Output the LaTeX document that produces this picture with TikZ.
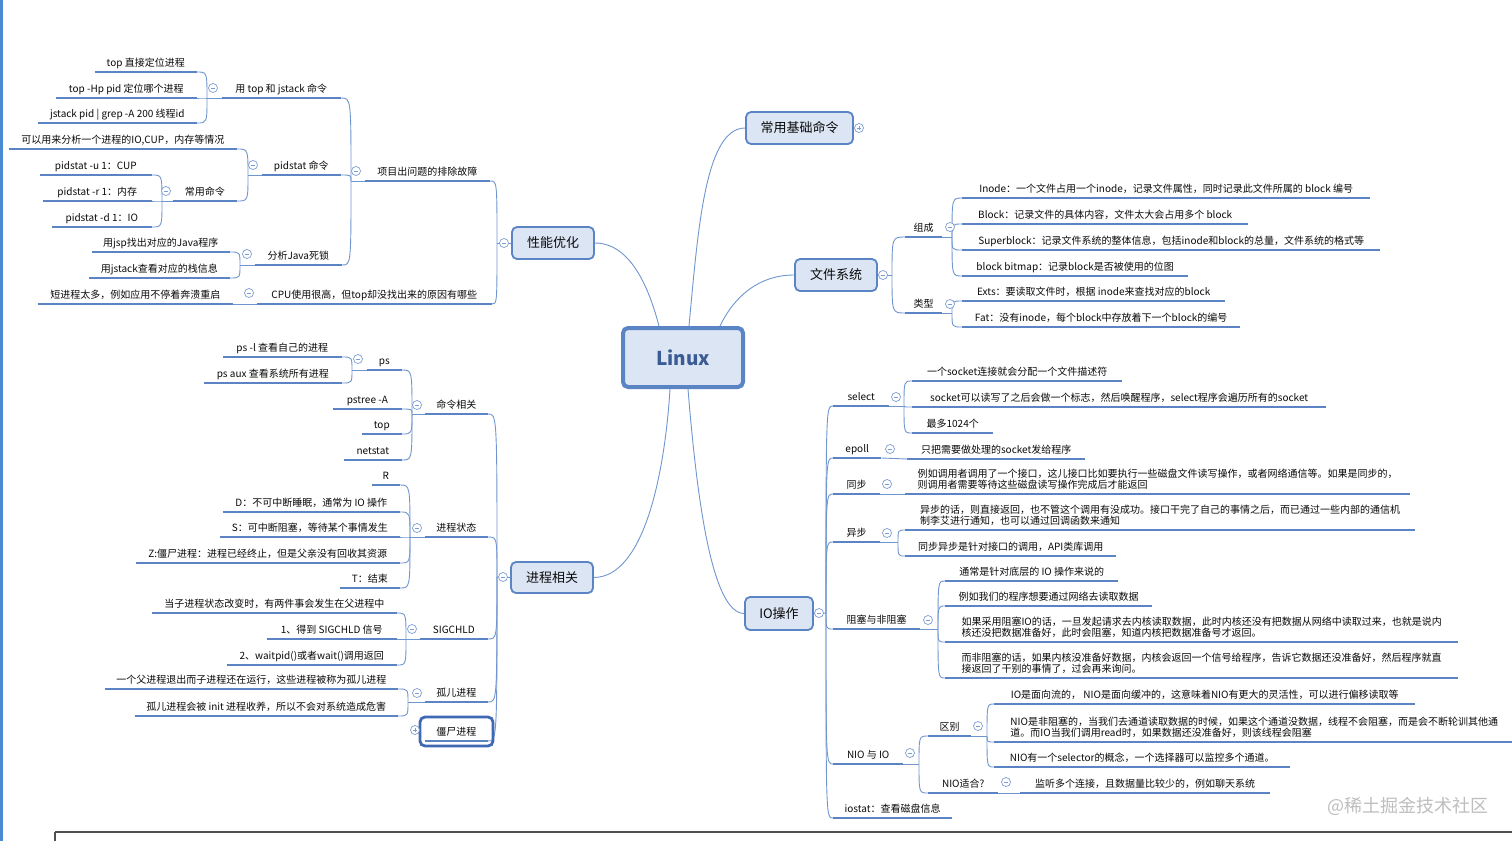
\documentclass[tikz,border=0pt]{standalone}
\usepackage{fontspec}
\setmainfont{Noto Sans CJK SC}
\usetikzlibrary{calc}
\definecolor{lb}{HTML}{5A84C4}
\definecolor{cl}{HTML}{7096CF}
\definecolor{bf}{HTML}{DCE5F3}
\definecolor{tx}{HTML}{0A0A0A}
\definecolor{lt}{HTML}{3B5B95}
\definecolor{ci}{HTML}{7C9DD3}
\definecolor{sel}{HTML}{3F68B5}
\newcommand\mmlink[2]{\draw[conn] (#1) .. controls (#1 |- #2) .. (#2);}
\tikzset{
 leaf/.style={inner xsep=4pt, inner ysep=3.7pt, text height=8pt, text depth=2pt, font=\fontsize{10}{11}\selectfont, text=tx},
 leaftwo/.style={inner xsep=4pt, inner ysep=4pt, font=\fontsize{10}{11}\selectfont, text=tx, align=left},
 lf/.style={leaf, anchor=south east, minimum width=#1},
 rt/.style={leaf, anchor=south west, minimum width=#1},
 rttwo/.style={leaftwo, anchor=south west, minimum width=#1},
 ul/.style={draw=lb, line width=2.8pt},
 conn/.style={draw=cl, line width=0.9pt},
 topic/.style={draw=lb, line width=1.8pt, fill=bf, rounded corners=5pt, font=\fontsize{13}{15}\selectfont, text=tx, inner sep=0pt},
 mn/.style={circle, draw=ci, line width=0.7pt, fill=white, minimum size=9pt, inner sep=0pt,
   path picture={\draw[ci,line width=0.8pt] ([xshift=-2.3pt]path picture bounding box.center) -- ([xshift=2.3pt]path picture bounding box.center);}},
 pl/.style={circle, draw=ci, line width=0.7pt, fill=white, minimum size=9pt, inner sep=0pt,
   path picture={\draw[ci,line width=0.8pt] ([xshift=-2.3pt]path picture bounding box.center) -- ([xshift=2.3pt]path picture bounding box.center);
   \draw[ci,line width=0.8pt] ([yshift=-2.3pt]path picture bounding box.center) -- ([yshift=2.3pt]path picture bounding box.center);}},
}
\begin{document}
\begin{tikzpicture}[x=1pt,y=-1pt]
\fill[white] (0,0) rectangle (1512,841);
\useasboundingbox (0,0) rectangle (1512,841);
\draw[color={rgb,255:red,74;green,138;blue,212}, line width=3pt] (1.5,0) -- (1.5,841);
\draw[color={rgb,255:red,80;green,80;blue,80}, line width=1.2pt] (55,832) -- (1512,832);
\draw[color={rgb,255:red,80;green,80;blue,80}, line width=1.2pt] (55,832) -- (55,841);

% ===== topics =====
\node[topic, minimum width=120pt, minimum height=59pt, line width=4pt, font=\fontsize{19}{21}\selectfont\bfseries, text=lt] (linux) at (683,357.5) {Linux};
\node[topic, minimum width=82pt, minimum height=32pt] (perf) at (553,243) {性能优化};
\node[topic, minimum width=82pt, minimum height=31pt] (proc) at (552,577.5) {进程相关};
\node[topic, minimum width=107pt, minimum height=32pt] (cmd) at (799.5,128) {常用基础命令};
\node[topic, minimum width=82pt, minimum height=32pt] (fs) at (836,275) {文件系统};
\node[topic, minimum width=68pt, minimum height=33pt] (io) at (779,613.5) {IO操作};

\coordinate (lt1) at ($(linux.north west)+(38,0)$);
\coordinate (lt2) at ($(linux.north west)+(68,0)$);
\coordinate (lt3) at ($(linux.north west)+(99,0)$);
\coordinate (lb1) at ($(linux.south west)+(49,0)$);
\coordinate (lb2) at ($(linux.south west)+(67,0)$);
\draw[conn] (perf.east) .. controls (635,243) and (652,300) .. (lt1);
\draw[conn] (lt2) .. controls (698,230) and (705,128) .. (cmd.west);
\draw[conn] (lt3) .. controls (735,295) and (760,275) .. (fs.west);
\draw[conn] (lb1) .. controls (665,470) and (645,577) .. (proc.east);
\draw[conn] (lb2) .. controls (697,500) and (712,613) .. (io.west);

% ===== 性能优化 =====
\node[lf=125pt] (p1) at (490,181) {项目出问题的排除故障};
\node[lf=235pt] (p2) at (492,304) {CPU使用很高，但top却没找出来的原因有哪些};
\node[lf=119pt] (a1) at (341,98) {用 top 和 jstack 命令};
\node[lf=79pt] (a2) at (341,175) {pidstat 命令};
\node[lf=87pt] (a3) at (342,265) {分析Java死锁};
\node[lf=102pt] (a11) at (197,72) {top 直接定位进程};
\node[lf=141pt] (a12) at (197,98) {top -Hp pid 定位哪个进程};
\node[lf=159pt] (a13) at (197,123) {jstack pid | grep -A 200 线程id};
\node[lf=228pt] (a21) at (237,149) {可以用来分析一个进程的IO,CUP，内存等情况};
\node[lf=64pt] (a22) at (237,201) {常用命令};
\node[lf=112pt] (a221) at (152,175) {pidstat -u 1：CUP};
\node[lf=109pt] (a222) at (152,201) {pidstat -r 1：内存};
\node[lf=100pt] (a223) at (152,227) {pidstat -d 1：IO};
\node[lf=138pt] (a31) at (230,252) {用jsp找出对应的Java程序};
\node[lf=141pt] (a32) at (230,278) {用jstack查看对应的栈信息};
\node[lf=195pt] (p21) at (233,304) {短进程太多，例如应用不停着奔溃重启};

% ===== 进程相关 =====
\node[lf=63pt] (q1) at (488,414) {命令相关};
\node[lf=63pt] (q2) at (488,537) {进程状态};
\node[lf=68pt] (q3) at (488,639) {SIGCHLD};
\node[lf=63pt] (q4) at (488,702) {孤儿进程};
\node[lf=63pt] (q5) at (488,741) {僵尸进程};
\node[lf=35pt] (q11) at (402,370) {ps};
\node[lf=69pt] (q12) at (402,409) {pstree -A};
\node[lf=40pt] (q13) at (402,434) {top};
\node[lf=58pt] (q14) at (402,460) {netstat};
\node[lf=119pt] (q111) at (342,357) {ps -l 查看自己的进程};
\node[lf=138pt] (q112) at (342,383) {ps aux 查看系统所有进程};
\node[lf=28pt] (q21) at (400,485) {R};
\node[lf=177pt] (q22) at (400,512) {D：不可中断睡眠，通常为 IO 操作};
\node[lf=180pt] (q23) at (400,537) {S：可中断阻塞，等待某个事情发生};
\node[lf=264pt] (q24) at (400,563) {Z:僵尸进程：进程已经终止，但是父亲没有回收其资源};
\node[lf=60pt] (q25) at (400,588) {T：结束};
\node[lf=245pt] (q31) at (397,613) {当子进程状态改变时，有两件事会发生在父进程中};
\node[lf=130pt] (q32) at (397,639) {1、得到 SIGCHLD 信号};
\node[lf=170pt] (q33) at (397,665) {2、waitpid()或者wait()调用返回};
\node[lf=293pt] (q41) at (398,689) {一个父进程退出而子进程还在运行，这些进程被称为孤儿进程};
\node[lf=263pt] (q42) at (398,716) {孤儿进程会被 init 进程收养，所以不会对系统造成危害};

% ===== 文件系统 =====
\node[rt=37pt] (f1) at (905,237) {组成};
\node[rt=37pt] (f2) at (905,313) {类型};
\node[rt=408pt] (f11) at (962,198) {Inode：一个文件占用一个inode，记录文件属性，同时记录此文件所属的 block 编号};
\node[rt=286pt] (f12) at (962,224) {Block：记录文件的具体内容，文件太大会占用多个 block};
\node[rt=418pt] (f13) at (962,250) {Superblock：记录文件系统的整体信息，包括inode和block的总量，文件系统的格式等};
\node[rt=226pt] (f14) at (962,276) {block bitmap：记录block是否被使用的位图};
\node[rt=263pt] (f21) at (962,301) {Exts：要读取文件时，根据 inode来查找对应的block};
\node[rt=278pt] (f22) at (962,327) {Fat：没有inode，每个block中存放着下一个block的编号};

% ===== IO操作 =====
\node[rt=56pt] (i1) at (833,406) {select};
\node[rt=48pt] (i2) at (833,458) {epoll};
\node[rt=47pt] (i3) at (833,494) {同步};
\node[rt=47pt] (i4) at (833,542) {异步};
\node[rt=87pt] (i5) at (833,629) {阻塞与非阻塞};
\node[rt=70pt] (i6) at (833,764) {NIO 与 IO};
\node[rt=119pt] (i7) at (833,818) {iostat：查看磁盘信息};
\node[rt=210pt] (i11) at (912,381) {一个socket连接就会分配一个文件描述符};
\node[rt=414pt] (i12) at (912,407) {socket可以读写了之后会做一个标志，然后唤醒程序，select程序会遍历所有的socket};
\node[rt=81pt] (i13) at (912,433) {最多1024个};
\node[rt=178pt] (i21) at (907,459) {只把需要做处理的socket发给程序};
\node[rttwo=505pt] (i31) at (905,494) {例如调用者调用了一个接口，这儿接口比如要执行一些磁盘文件读写操作，或者网络通信等。如果是同步的，\\则调用者需要等待这些磁盘读写操作完成后才能返回};
\node[rttwo=510pt] (i41) at (905,530) {异步的话，则直接返回，也不管这个调用有没成功。接口干完了自己的事情之后，而已通过一些内部的通信机\\制李艾进行通知，也可以通过回调函数来通知};
\node[rt=211pt] (i42) at (905,556) {同步异步是针对接口的调用，API类库调用};
\node[rt=173pt] (i51) at (945,581) {通常是针对底层的 IO 操作来说的};
\node[rt=207pt] (i52) at (945,606) {例如我们的程序想要通过网络去读取数据};
\node[rttwo=513pt] (i53) at (945,642) {如果采用阻塞IO的话，一旦发起请求去内核读取数据，此时内核还没有把数据从网络中读取过来，也就是说内\\核还没把数据准备好，此时会阻塞，知道内核把数据准备号才返回。};
\node[rttwo=513pt] (i54) at (945,678) {而非阻塞的话，如果内核没准备好数据，内核会返回一个信号给程序，告诉它数据还没准备好，然后程序就直\\接返回了干别的事情了，过会再来询问。};
\node[rt=43pt] (i61) at (928,736) {区别};
\node[rt=70pt] (i62) at (928,793) {NIO适合?};
\node[rt=421pt] (i611) at (994,704) {IO是面向流的， NIO是面向缓冲的，这意味着NIO有更大的灵活性，可以进行偏移读取等};
\node[rttwo=520pt] (i612) at (994,742) {NIO是非阻塞的，当我们去通道读取数据的时候，如果这个通道没数据，线程不会阻塞，而是会不断轮训其他通\\道。而IO当我们调用read时，如果数据还没准备好，则该线程会阻塞};
\node[rt=296pt] (i613) at (994,767) {NIO有一个selector的概念，一个选择器可以监控多个通道。};
\node[rt=250pt] (i621) at (1020,793) {监听多个连接，且数据量比较少的，例如聊天系统};

% ===== underlines =====
\foreach \n in {p1,p2,a1,a2,a3,a11,a12,a13,a21,a22,a221,a222,a223,a31,a32,p21,
  q1,q2,q3,q4,q5,q11,q12,q13,q14,q111,q112,q21,q22,q23,q24,q25,q31,q32,q33,q41,q42,
  f1,f2,f11,f12,f13,f14,f21,f22,
  i1,i2,i3,i4,i5,i6,i7,i11,i12,i13,i21,i31,i41,i42,i51,i52,i53,i54,i61,i62,i611,i612,i613,i621}
  \draw[ul] (\n.south west) -- (\n.south east);

% ===== junctions =====
\coordinate (jperf) at (497,243);
\coordinate (jp1) at (351,181);
\coordinate (ja1) at (207,98);
\coordinate (ja2) at (248,175);
\coordinate (ja22) at (162,201);
\coordinate (ja3) at (240,265);
\coordinate (jproc) at (497,577);
\coordinate (jq1) at (412,414);
\coordinate (jq11) at (352,370);
\coordinate (jq2) at (410,537);
\coordinate (jq3) at (406,639);
\coordinate (jq4) at (408,702);
\coordinate (jfs) at (892,275);
\coordinate (jf1) at (952,237);
\coordinate (jf2) at (952,313);
\coordinate (jio) at (826,613);
\coordinate (ji1) at (904,406);
\coordinate (ji4) at (898,542);
\coordinate (ji5) at (938,629);
\coordinate (ji6) at (919,764);
\coordinate (ji61) at (987,736);

% left connectors
\draw[conn] (perf.west) -- (jperf);
\mmlink{jperf}{p1.south east}
\mmlink{jperf}{p2.south east}
\draw[conn] (p1.south west) -- (jp1);
\mmlink{jp1}{a1.south east}
\mmlink{jp1}{a2.south east}
\mmlink{jp1}{a3.south east}
\draw[conn] (a1.south west) -- (ja1);
\mmlink{ja1}{a11.south east}
\mmlink{ja1}{a12.south east}
\mmlink{ja1}{a13.south east}
\draw[conn] (a2.south west) -- (ja2);
\mmlink{ja2}{a21.south east}
\mmlink{ja2}{a22.south east}
\draw[conn] (a22.south west) -- (ja22);
\mmlink{ja22}{a221.south east}
\mmlink{ja22}{a222.south east}
\mmlink{ja22}{a223.south east}
\draw[conn] (a3.south west) -- (ja3);
\mmlink{ja3}{a31.south east}
\mmlink{ja3}{a32.south east}
\draw[conn] (p2.south west) -- (p21.south east);

\draw[conn] (proc.west) -- (jproc);
\mmlink{jproc}{q1.south east}
\mmlink{jproc}{q2.south east}
\mmlink{jproc}{q3.south east}
\mmlink{jproc}{q4.south east}
\mmlink{jproc}{q5.south east}
\draw[conn] (q1.south west) -- (jq1);
\mmlink{jq1}{q11.south east}
\mmlink{jq1}{q12.south east}
\mmlink{jq1}{q13.south east}
\mmlink{jq1}{q14.south east}
\draw[conn] (q11.south west) -- (jq11);
\mmlink{jq11}{q111.south east}
\mmlink{jq11}{q112.south east}
\draw[conn] (q2.south west) -- (jq2);
\mmlink{jq2}{q21.south east}
\mmlink{jq2}{q22.south east}
\mmlink{jq2}{q23.south east}
\mmlink{jq2}{q24.south east}
\mmlink{jq2}{q25.south east}
\draw[conn] (q3.south west) -- (jq3);
\mmlink{jq3}{q31.south east}
\mmlink{jq3}{q32.south east}
\mmlink{jq3}{q33.south east}
\draw[conn] (q4.south west) -- (jq4);
\mmlink{jq4}{q41.south east}
\mmlink{jq4}{q42.south east}

% right connectors
\draw[conn] (fs.east) -- (jfs);
\mmlink{jfs}{f1.south west}
\mmlink{jfs}{f2.south west}
\draw[conn] (f1.south east) -- (jf1);
\mmlink{jf1}{f11.south west}
\mmlink{jf1}{f12.south west}
\mmlink{jf1}{f13.south west}
\mmlink{jf1}{f14.south west}
\draw[conn] (f2.south east) -- (jf2);
\mmlink{jf2}{f21.south west}
\mmlink{jf2}{f22.south west}

\draw[conn] (io.east) -- (jio);
\mmlink{jio}{i1.south west}
\mmlink{jio}{i2.south west}
\mmlink{jio}{i3.south west}
\mmlink{jio}{i4.south west}
\mmlink{jio}{i5.south west}
\mmlink{jio}{i6.south west}
\mmlink{jio}{i7.south west}
\draw[conn] (i1.south east) -- (ji1);
\mmlink{ji1}{i11.south west}
\mmlink{ji1}{i12.south west}
\mmlink{ji1}{i13.south west}
\draw[conn] (i2.south east) -- (i21.south west);
\draw[conn] (i3.south east) -- (i31.south west);
\draw[conn] (i4.south east) -- (ji4);
\mmlink{ji4}{i41.south west}
\mmlink{ji4}{i42.south west}
\draw[conn] (i5.south east) -- (ji5);
\mmlink{ji5}{i51.south west}
\mmlink{ji5}{i52.south west}
\mmlink{ji5}{i53.south west}
\mmlink{ji5}{i54.south west}
\draw[conn] (i6.south east) -- (ji6);
\mmlink{ji6}{i61.south west}
\mmlink{ji6}{i62.south west}
\draw[conn] (i61.south east) -- (ji61);
\mmlink{ji61}{i611.south west}
\mmlink{ji61}{i612.south west}
\mmlink{ji61}{i613.south west}
\draw[conn] (i62.south east) -- (i621.south west);

% selection frame
\draw[sel, line width=2.8pt, rounded corners=5pt] (420,717) rectangle (493,746);

% ===== collapse buttons =====
\node[mn] (cperf) at (504,243) {};
\node[mn] (cp1) at (356,171) {};
\node[mn] (ca1) at (213,88) {};
\node[mn] (ca2) at (253,165) {};
\node[mn] (ca22) at (166,191) {};
\node[mn] (ca3) at (247,254) {};
\node[mn] (cp2) at (249,293) {};
\node[mn] (cproc) at (503,577) {};
\node[mn] (cq1) at (417,405) {};
\node[mn] (cq11) at (358,359) {};
\node[mn] (cq2) at (417,528) {};
\node[mn] (cq3) at (412,629) {};
\node[mn] (cq4) at (417,693) {};
\node[pl] (cq5) at (415,730) {};
\node[pl] (ccmd) at (859,128) {};
\node[mn] (cfs) at (883,275) {};
\node[mn] (cf1) at (950,227) {};
\node[mn] (cf2) at (950,304) {};
\node[mn] (cio) at (819,613) {};
\node[mn] (ci1) at (896,397) {};
\node[mn] (ci2) at (890,449) {};
\node[mn] (ci3) at (887,484) {};
\node[mn] (ci4) at (887,533) {};
\node[mn] (ci5) at (928,620) {};
\node[mn] (ci6) at (910,753) {};
\node[mn] (ci61) at (978,726) {};
\node[mn] (ci62) at (1006,782) {};

% watermark
\node[font=\fontsize{18}{20}\selectfont, text={rgb,255:red,190;green,190;blue,190}, anchor=east] (wm) at (1492,806) {@稀土掘金技术社区};
\end{tikzpicture}
\end{document}
